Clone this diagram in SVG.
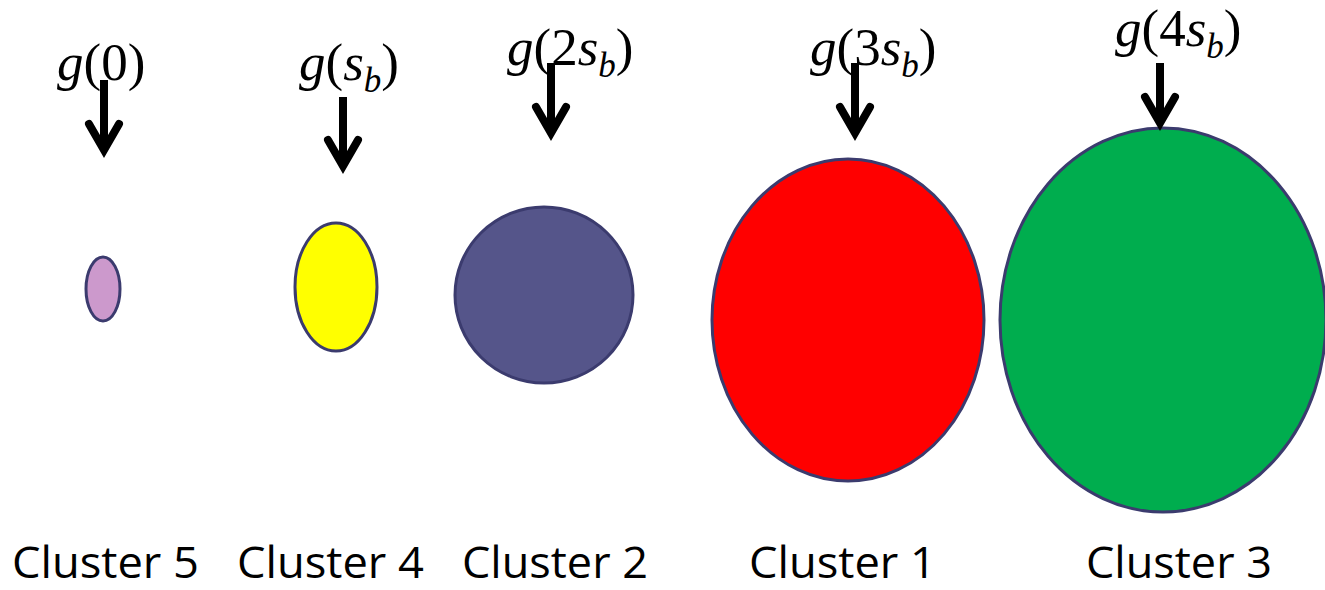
<svg xmlns="http://www.w3.org/2000/svg" width="1325" height="590" viewBox="0 0 1325 590">
<style>
.node ellipse{stroke:#3B3B6E;stroke-width:3}
.lbl{font-family:'Open Sans','Liberation Sans',sans-serif;font-size:44px;fill:#000}
.math{font-family:'Liberation Serif',serif;font-size:53px;fill:#000}
.it{font-style:italic}
.sub{font-style:italic;font-size:35px}
.arr{fill:none;stroke:#000;stroke-width:8;stroke-linecap:butt}
.head{fill:none;stroke:#000;stroke-width:8;stroke-linecap:round;stroke-linejoin:miter}
</style>
<rect width="1325" height="590" fill="#fff"/>
<g id="cluster5" class="node">
<ellipse cx="103" cy="289" rx="17" ry="32" fill="#CC99CC"/>
<text class="lbl" x="12" y="578" textLength="187" lengthAdjust="spacingAndGlyphs">Cluster 5</text>
</g>
<g id="cluster4" class="node">
<ellipse cx="336" cy="287" rx="41" ry="64" fill="#FFFF00"/>
<text class="lbl" x="237" y="578" textLength="187" lengthAdjust="spacingAndGlyphs">Cluster 4</text>
</g>
<g id="cluster2" class="node">
<ellipse cx="544" cy="295" rx="89" ry="88" fill="#55558A"/>
<text class="lbl" x="462" y="578" textLength="186" lengthAdjust="spacingAndGlyphs">Cluster 2</text>
</g>
<g id="cluster1" class="node">
<ellipse cx="848" cy="320" rx="136" ry="161" fill="#FF0000"/>
<text class="lbl" x="749" y="578" textLength="187" lengthAdjust="spacingAndGlyphs">Cluster 1</text>
</g>
<g id="cluster3" class="node">
<ellipse cx="1163" cy="320" rx="163" ry="192" fill="#00AD4E"/>
<text class="lbl" x="1086" y="578" textLength="186" lengthAdjust="spacingAndGlyphs">Cluster 3</text>
</g>
<g id="labels">
<text class="math" x="57" y="80"><tspan class="it">g</tspan>(0)</text>
<text class="math" x="299" y="80"><tspan class="it">g</tspan>(<tspan class="it">s</tspan><tspan class="sub" dy="12">b</tspan><tspan dy="-12">)</tspan></text>
<text class="math" x="507" y="65"><tspan class="it">g</tspan>(2<tspan class="it">s</tspan><tspan class="sub" dy="12">b</tspan><tspan dy="-12">)</tspan></text>
<text class="math" x="810" y="65"><tspan class="it">g</tspan>(3<tspan class="it">s</tspan><tspan class="sub" dy="12">b</tspan><tspan dy="-12">)</tspan></text>
<text class="math" x="1115" y="46"><tspan class="it">g</tspan>(4<tspan class="it">s</tspan><tspan class="sub" dy="12">b</tspan><tspan dy="-12">)</tspan></text>
</g>
<g id="connectors">
<path class="arr" d="M104,80 V150"/>
<path class="head" d="M89,124 L104,150 L119,124"/>
<path class="arr" d="M343,97 V166"/>
<path class="head" d="M328,140 L343,166 L358,140"/>
<path class="arr" d="M551,63 V133"/>
<path class="head" d="M536,107 L551,133 L566,107"/>
<path class="arr" d="M855,63 V133"/>
<path class="head" d="M840,107 L855,133 L870,107"/>
<path class="arr" d="M1160,63 V123"/>
<path class="head" d="M1145,97 L1160,123 L1175,97"/>
</g>
</svg>
